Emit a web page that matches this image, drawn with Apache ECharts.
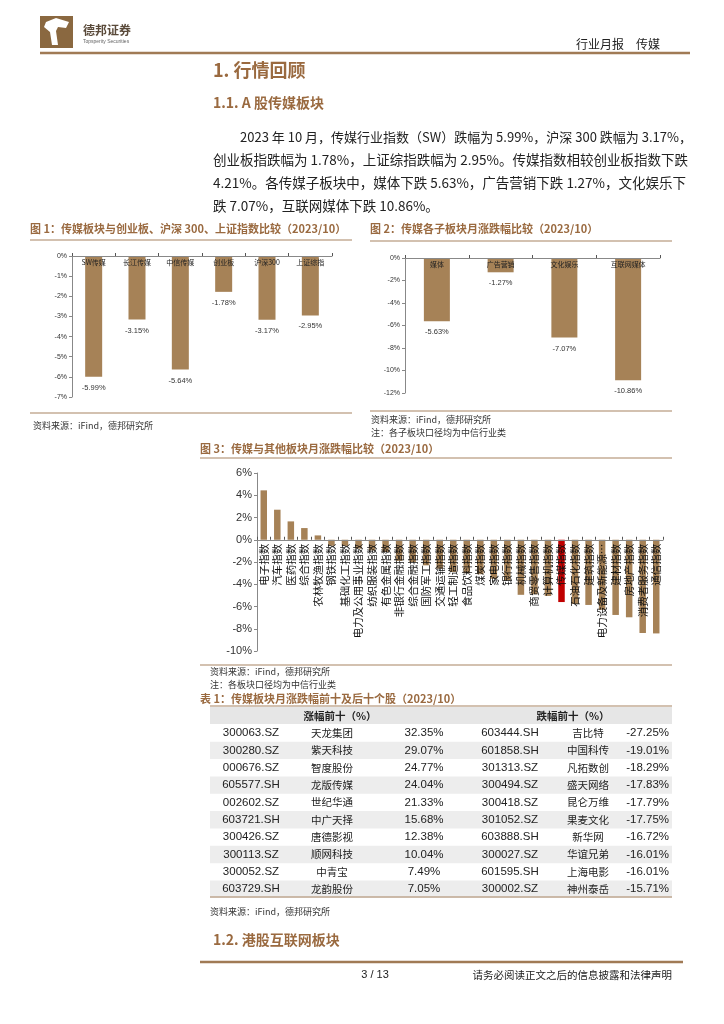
<!DOCTYPE html>
<html><head><meta charset="utf-8">
<script src="https://cdn.jsdelivr.net/npm/echarts@6/dist/echarts.min.js"></script>
<style>html,body{margin:0;padding:0;background:#fff}#c{width:724px;height:1024px}</style>
</head><body><div id="c"></div>
<script>
// ---------- data ----------
const c1Cats = ['SW传媒','长江传媒','中信传媒','创业板','沪深300','上证综指'];
const c1Vals = [-5.99,-3.15,-5.64,-1.78,-3.17,-2.95];
const c2Cats = ['媒体','广告营销','文化娱乐','互联网媒体'];
const c2Vals = [-5.63,-1.27,-7.07,-10.86];
const c3Cats = ['电子指数','汽车指数','医药指数','综合指数','农林牧渔指数','钢铁指数','基础化工指数','电力及公用事业指数','纺织服装指数','有色金属指数','非银行金融指数','综合金融指数','国防军工指数','交通运输指数','轻工制造指数','食品饮料指数','煤炭指数','家电指数','银行指数','机械指数','商贸零售指数','计算机指数','传媒指数','石油石化指数','建筑指数','电力设备及新能源指数','建材指数','房地产指数','消费者服务指数','通信指数'];
const c3Vals = [4.44,2.70,1.65,1.05,0.39,-0.54,-0.55,-0.80,-0.96,-1.10,-1.90,-2.00,-2.30,-2.60,-2.90,-3.00,-3.10,-3.50,-3.66,-4.95,-4.90,-5.05,-5.60,-5.77,-5.86,-6.30,-6.76,-6.97,-8.38,-8.42];
const c3Highlight = '传媒指数';
const upCodes = ['300063.SZ','300280.SZ','000676.SZ','605577.SH','002602.SZ','603721.SH','300426.SZ','300113.SZ','300052.SZ','603729.SH'];
const upNames = ['天龙集团','紫天科技','智度股份','龙版传媒','世纪华通','中广天择','唐德影视','顺网科技','中青宝','龙韵股份'];
const upPcts = ['32.35%','29.07%','24.77%','24.04%','21.33%','15.68%','12.38%','10.04%','7.49%','7.05%'];
const downCodes = ['603444.SH','601858.SH','301313.SZ','300494.SZ','300418.SZ','301052.SZ','603888.SH','300027.SZ','601595.SH','300002.SZ'];
const downNames = ['吉比特','中国科传','凡拓数创','盛天网络','昆仑万维','果麦文化','新华网','华谊兄弟','上海电影','神州泰岳'];
const downPcts = ['-27.25%','-19.01%','-18.29%','-17.83%','-17.79%','-17.75%','-16.72%','-16.01%','-16.01%','-15.71%'];
const paraLines = [
 '2023 年 10 月，传媒行业指数（SW）跌幅为 5.99%，沪深 300 跌幅为 3.17%，',
 '创业板指跌幅为 1.78%，上证综指跌幅为 2.95%。传媒指数相较创业板指数下跌',
 '4.21%。各传媒子板块中，媒体下跌 5.63%，广告营销下跌 1.27%，文化娱乐下',
 '跌 7.07%，互联网媒体下跌 10.86%。'
];

// ---------- styles ----------
const CJK = '"Noto Sans CJK SC", sans-serif';
const LAT = '"Liberation Sans", Arial, sans-serif';
const TAN = '#A68257';
const TITLE = '#9A6A40';
const LINE = '#A88462';
const AX = '#888';

const chart = echarts.init(document.getElementById('c'), null, {renderer:'canvas'});

function pctFmt(v){ return v + '%'; }

const g = [];
function txt(x,y,s,o){ g.push({type:'text',x:x,y:y,style:Object.assign({text:s,fill:'#222',font:'12px '+CJK,textVerticalAlign:'middle'},o||{})}); }
function hline(x1,x2,y,w,c){ g.push({type:'line',shape:{x1:x1,y1:y,x2:x2,y2:y},style:{stroke:c||LINE,lineWidth:w||1}}); }
function rect(x,y,w,h,c){ g.push({type:'rect',shape:{x:x,y:y,width:w,height:h},style:{fill:c}}); }

// header
rect(40,16,33,32,'#8A6840');
g.push({type:'polygon',shape:{points:[[46,22],[56,18],[69,22],[66,28],[58,27],[56,31],[58,45],[52,45],[50,32],[44,27]]},style:{fill:'#fff'}});
txt(83,30,'德邦证券',{font:'bold 12px '+CJK,fill:'#5a4a3a'});
txt(83,42,'Topsperity Securities',{font:'5px '+LAT,fill:'#666'});
txt(660,44,'行业月报　传媒',{font:'12px '+CJK,fill:'#222',textAlign:'right'});
hline(40,690,53,2.5,'#A07A55');
txt(213,70,'1. 行情回顾',{font:'bold 18px '+CJK,fill:TITLE});
txt(213,103,'1.1. A 股传媒板块',{font:'bold 14px '+CJK,fill:TITLE});
paraLines.forEach((s,i)=>txt(i===0?240:213,137+i*23,s,{font:(i===0?'13px ':'13.5px ')+CJK,fill:'#222'}));

// chart 1 framing
txt(30,229,'图 1：传媒板块与创业板、沪深 300、上证指数比较（2023/10）',{font:'bold 11px '+CJK,fill:TITLE});
hline(30,352,240,1.2);
hline(30,352,413,1.2);
txt(33,426,'资料来源：iFind，德邦研究所',{font:'9px '+CJK,fill:'#333'});
// chart 2 framing
txt(370,229,'图 2：传媒各子板块月涨跌幅比较（2023/10）',{font:'bold 11px '+CJK,fill:TITLE});
hline(370,672,241,1.2);
hline(370,672,411,1.2);
txt(371,420,'资料来源：iFind，德邦研究所',{font:'9px '+CJK,fill:'#333'});
txt(371,433,'注：各子板块口径均为中信行业类',{font:'9px '+CJK,fill:'#333'});
// chart 3 framing
txt(200,449,'图 3：传媒与其他板块月涨跌幅比较（2023/10）',{font:'bold 11px '+CJK,fill:TITLE});
hline(200,672,458,1.2);
hline(200,672,665,1.2);
txt(210,672,'资料来源：iFind，德邦研究所',{font:'9px '+CJK,fill:'#333'});
txt(210,685,'注：各板块口径均为中信行业类',{font:'9px '+CJK,fill:'#333'});

// table
txt(200,699,'表 1：传媒板块月涨跌幅前十及后十个股（2023/10）',{font:'bold 11px '+CJK,fill:TITLE});
hline(210,672,706,1.2);
rect(210,707,462,17,'#E6E6E6');
txt(340,716,'涨幅前十（%）',{font:'bold 10.5px '+CJK,textAlign:'center'});
txt(573,716,'跌幅前十（%）',{font:'bold 10.5px '+CJK,textAlign:'center'});
const rowH = 17.35;
upCodes.forEach((_,i)=>{
  const cy = 733 + i*rowH;
  if(i%2===1) rect(210,cy-rowH/2,462,rowH,'#EDEDED');
});
upCodes.forEach((_,i)=>{
  const cy = 733 + i*rowH;
  txt(251,cy,upCodes[i],{font:'11.5px '+LAT,textAlign:'center'});
  txt(332,cy,upNames[i],{font:'10.5px '+CJK,textAlign:'center'});
  txt(424,cy,upPcts[i],{font:'11.5px '+LAT,textAlign:'center'});
  txt(510,cy,downCodes[i],{font:'11.5px '+LAT,textAlign:'center'});
  txt(588,cy,downNames[i],{font:'10.5px '+CJK,textAlign:'center'});
  txt(669,cy,downPcts[i],{font:'11.5px '+LAT,textAlign:'right'});
});
hline(210,672,897,1.2);
txt(210,912,'资料来源：iFind，德邦研究所',{font:'9px '+CJK,fill:'#333'});
txt(213,940,'1.2. 港股互联网板块',{font:'bold 14px '+CJK,fill:TITLE});
hline(200,683,962,2.5,'#A07A55');
txt(375,975,'3 / 13',{font:'11px '+LAT,fill:'#222',textAlign:'center'});
txt(672,975,'请务必阅读正文之后的信息披露和法律声明',{font:'10.5px '+CJK,fill:'#222',textAlign:'right'});

// grids
const grids = [
  {left:72,top:256,width:260,height:141,min:-7,max:0,interval:1},
  {left:405,top:258,width:255,height:135,min:-12,max:0,interval:2},
  {left:257,top:473,width:406,height:178,min:-10,max:6,interval:2}
];
function zeroOffset(gr){ return -gr.height*(0-gr.min)/(gr.max-gr.min); }

function xAx(gi,cats,labelExtra){
  return {type:'category',gridIndex:gi,data:cats,position:'bottom',offset:zeroOffset(grids[gi]),z:10,
    axisLine:{onZero:false,lineStyle:{color:AX,width:1}},
    axisTick:{show:true,inside:true,length:3,lineStyle:{color:'#555'}},
    axisLabel:Object.assign({fontSize:7,color:'#222',fontFamily:CJK,margin:3,interval:0},labelExtra||{})};
}
function yAx(gi,fs){
  const gr = grids[gi];
  return {type:'value',gridIndex:gi,min:gr.min,max:gr.max,interval:gr.interval,
    axisLine:{show:true,lineStyle:{color:AX}},axisTick:{show:true,length:3,lineStyle:{color:AX}},
    splitLine:{show:false},
    axisLabel:{fontSize:fs,color:'#333',fontFamily:LAT,formatter:pctFmt,margin:5}};
}

const option = {
  animation:false,
  textStyle:{fontFamily:CJK},
  grid:grids.map(gr=>({left:gr.left,top:gr.top,width:gr.width,height:gr.height,containLabel:false})),
  xAxis:[
    xAx(0,c1Cats),
    xAx(1,c2Cats),
    xAx(2,c3Cats,{fontSize:10.5,color:'#111',margin:4,rotate:90,
      formatter:v=>v.length>9?v.slice(0,8)+'…':v})
  ],
  yAxis:[ yAx(0,7), yAx(1,7), yAx(2,11) ],
  series:[
    {type:'bar',xAxisIndex:0,yAxisIndex:0,data:c1Vals,barWidth:17,itemStyle:{color:TAN},
     label:{show:true,position:'bottom',distance:7,fontSize:7.5,color:'#333',fontFamily:LAT,formatter:p=>p.value.toFixed(2)+'%'}},
    {type:'bar',xAxisIndex:1,yAxisIndex:1,data:c2Vals,barWidth:26,itemStyle:{color:TAN},
     label:{show:true,position:'bottom',distance:7,fontSize:7.5,color:'#333',fontFamily:LAT,formatter:p=>p.value.toFixed(2)+'%'}},
    {type:'bar',xAxisIndex:2,yAxisIndex:2,barWidth:6.5,
     data:c3Vals.map((v,i)=>({value:v,itemStyle:{color:c3Cats[i]===c3Highlight?'#C00000':TAN}}))}
  ],
  graphic:g
};
chart.setOption(option);
</script></body></html>
